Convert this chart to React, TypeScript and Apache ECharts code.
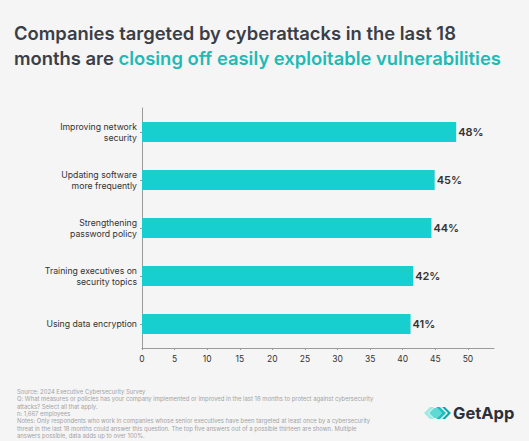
import React, { useEffect, useRef } from "react";
import * as echarts from "echarts";

const categories = [
  "Improving network\nsecurity",
  "Updating software\nmore frequently",
  "Strengthening\npassword policy",
  "Training executives on\nsecurity topics",
  "Using data encryption",
];
const values = [48.2, 44.9, 44.4, 41.6, 41.2];
const xTicks = [0, 5, 10, 15, 20, 25, 30, 35, 40, 45, 50];

const titleLine1 = "Companies targeted by cyberattacks in the last 18";
const titleLine2a = "months are ";
const titleLine2b = "closing off easily exploitable vulnerabilities";

const footLines = [
  "Source: 2024 Executive Cybersecurity Survey",
  "Q: What measures or policies has your company implemented or improved in the last 18 months to protect against cybersecurity",
  "attacks? Select all that apply.",
  "n: 1,667 employees",
  "Notes: Only respondents who work in companies whose senior executives have been targeted at least once by a cybersecurity",
  "threat in the last 18 months could answer this question. The top five answers out of a possible thirteen are shown. Multiple",
  "answers possible, data adds up to over 100%.",
];

export default function App() {
  const ref = useRef<HTMLDivElement>(null);
  useEffect(() => {
    if (!ref.current) return;
    const chart = echarts.init(ref.current, undefined, { renderer: "svg" });
    const font = "Inter, 'Noto Sans', sans-serif";
    chart.setOption({
      animation: false,
      backgroundColor: "#f5f5f5",
      textStyle: { fontFamily: font },
      title: {
        left: 14,
        top: 21,
        padding: 0,
        text: `{a|${titleLine1}}\n{a|${titleLine2a}}{b|${titleLine2b}}`,
        textStyle: {
          rich: {
            a: { fontSize: 18.4, fontWeight: 600, color: "#3a3e47", lineHeight: 24.5, fontFamily: font },
            b: { fontSize: 18.4, fontWeight: 600, color: "#1fbab6", lineHeight: 24.5, fontFamily: font },
          },
        },
      },
      grid: { left: 142, right: 35, top: 108, bottom: 93, containLabel: false },
      xAxis: {
        type: "value",
        min: 0,
        max: 54,
        interval: 5,
        splitLine: { show: false },
        axisLine: { show: true, lineStyle: { color: "#9a9a9a", width: 1 } },
        axisTick: { show: true, length: 2, customValues: xTicks, lineStyle: { color: "#9a9a9a" } },
        axisLabel: { customValues: xTicks, color: "#333", fontSize: 8.5, margin: 6 },
      },
      yAxis: {
        type: "category",
        inverse: true,
        data: categories,
        axisLine: { show: true, lineStyle: { color: "#9a9a9a", width: 1 } },
        axisTick: { show: true, length: 2, alignWithLabel: true, lineStyle: { color: "#9a9a9a" } },
        axisLabel: { color: "#333", fontSize: 8.7, lineHeight: 11, margin: 5, align: "right" },
      },
      series: [
        {
          type: "bar",
          data: values,
          barWidth: 20,
          itemStyle: { color: "#17cfcf" },
          label: {
            show: true,
            position: "right",
            distance: 2,
            color: "#333",
            fontSize: 11,
            fontWeight: 600,
            formatter: (p: any) => `${Math.round(p.value)}%`,
          },
        },
      ],
      graphic: [
        {
          type: "text",
          left: 17,
          top: 388,
          style: {
            text: footLines.join("\n"),
            fontSize: 5.9,
            lineHeight: 7.3,
            fill: "#a3a3a3",
            fontFamily: font,
          },
        },
        {
          type: "group",
          left: 424,
          top: 407,
          children: [
            { type: "polygon", shape: { points: [[0, 6], [6, 0], [10, 0], [4, 6], [10, 12], [6, 12]] }, style: { fill: "#9fe8e3" } },
            { type: "polygon", shape: { points: [[5, 6], [10, 1], [13, 1], [18, 6], [13, 11], [10, 11]] }, style: { fill: "#5fd9d3" } },
            { type: "polygon", shape: { points: [[12, 0], [16, 0], [22, 6], [16, 12], [12, 12], [18, 6]] }, style: { fill: "#17c2c0" } },
            { type: "polygon", shape: { points: [[18, 0], [21, 0], [27, 6], [21, 12], [18, 12], [24, 6]] }, style: { fill: "#10a9a9" } },
          ],
        },
        {
          type: "text",
          left: 453,
          top: 404,
          style: { text: "GetApp", fontSize: 16.5, fontWeight: 700, fill: "#2b303b", fontFamily: font },
        },
      ],
    });
    return () => chart.dispose();
  }, []);
  return <div ref={ref} style={{ position: "fixed", left: 0, top: 0, width: 529, height: 441 }} />;
}
